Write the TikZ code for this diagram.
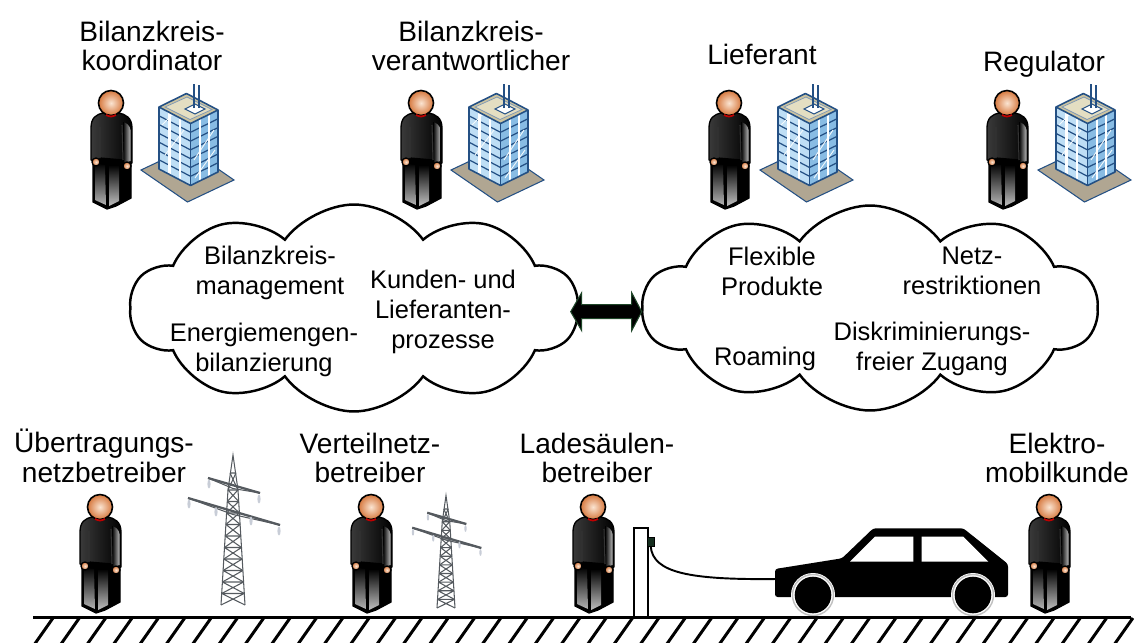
\documentclass[tikz,border=0pt]{standalone}
\usepackage{fontspec}
\setmainfont{Liberation Sans}
\usetikzlibrary{shapes.symbols,calc}

\definecolor{skin}{RGB}{242,178,124}
\definecolor{skinrim}{RGB}{214,120,62}
\definecolor{glassL}{RGB}{190,222,245}
\definecolor{glassR}{RGB}{136,188,228}
\definecolor{bldline}{RGB}{36,80,132}
\definecolor{roofc}{RGB}{205,196,160}
\definecolor{roofin}{RGB}{228,222,194}
\definecolor{plate}{RGB}{176,166,146}
\definecolor{pylgray}{RGB}{85,90,95}
\definecolor{insul}{RGB}{200,205,215}
\definecolor{arrowrim}{RGB}{30,70,40}
\definecolor{plugc}{RGB}{20,45,30}

\tikzset{
  lbl/.style={font=\fontsize{16}{17}\selectfont, align=center, inner sep=0pt},
  ctxt/.style={font=\fontsize{14.5}{17}\selectfont, align=center, inner sep=0pt},
  bubble/.style={cloud, draw, line width=1.4pt, fill=white, cloud puffs=10,
    cloud puff arc=108, cloud ignores aspect, inner sep=0pt},
  outl/.style={draw=black, line width=0.75pt, line join=round},
  skinball/.style={inner color=skin!35!white, outer color=skinrim},
  % standing figure, origin at the centre of the head
  person/.pic={
    \filldraw[fill=black, outl] (-18,54) -- (20,54) -- (20,95) -- (5,103)
      -- (-4,106) -- (-18,99) -- cycle;
    \shade[top color=black, bottom color=gray!60]
      (-16,60) -- (-6,62) -- (-5,102) -- (-16,97) -- cycle;
    \shade[top color=black, bottom color=gray!50]
      (-2,62) -- (8,62) -- (8,98) -- (-2,103) -- cycle;
    \shadedraw[left color=gray!45!black, middle color=black, right color=black, outl]
      (-7,10) .. controls (-15,11) and (-20,15) .. (-20,25) -- (-20,57) -- (-12,59)
      -- (-11,55) -- (12,57) -- (13,63) -- (21,60) -- (21,25)
      .. controls (21,15) and (15,11) .. (7,10) -- cycle;
    \shade[left color=black, right color=gray!55]
      (12,19) .. controls (16,20) and (19,23) .. (19.5,27) -- (19.5,58) -- (13,60) -- cycle;
    \draw[gray!40!black, line width=0.6pt] (-11,24) -- (-11,55) (11,22) -- (12,57);
    \shadedraw[skinball, outl] (-15,59) circle (4);
    \shadedraw[skinball, outl] (16,63) circle (4);
    \shadedraw[skinball, draw=black, line width=0.9pt] (0,0) circle (12.5);
    \draw[red!75!black, line width=1pt] (-5,12) .. controls (0,14) .. (5,12);
  },
  % glass office tower in isometric view
  building/.pic={
    \filldraw[fill=plate, draw=bldline, line width=0.6pt]
      (-48,20) -- (-1.5,52) -- (45,30) -- (-1.5,-2) -- cycle;
    \fill[glassL] (-30,-43) -- (1.5,-26.5) -- (1.5,35.5) -- (-30,19) -- cycle;
    \fill[glassR] (1.5,-26.5) -- (29,-40) -- (29,22) -- (1.5,35.5) -- cycle;
    \foreach \k in {1,...,6}
      \draw[bldline, line width=0.7pt] (-30,-43+8.8*\k) -- (1.5,-26.5+8.8*\k) -- (29,-40+8.8*\k);
    \draw[white!85!glassL, line width=0.5pt] (-27,-25) -- (-12,-40) (-24,5) -- (-5,-20)
      (5,10) -- (25,-20) (6,28) -- (26,0);
    \draw[white, line width=1.2pt] (-19.5,-37.5) -- (-19.5,24.5) (-9,-32) -- (-9,30)
      (10.7,-31) -- (10.7,31) (19.8,-35.5) -- (19.8,26.5);
    \draw[bldline, line width=0.9pt, line join=round]
      (-30,-43) -- (-30,19) -- (1.5,35.5) -- (29,22) -- (29,-40);
    \draw[bldline, line width=0.9pt] (1.5,-26.5) -- (1.5,35.5);
    \filldraw[fill=roofc, draw=bldline, line width=0.9pt, line join=round]
      (-30,-43) -- (1.5,-26.5) -- (29,-40) -- (-2.5,-56.5) -- cycle;
    \filldraw[fill=roofin, draw=bldline!60, line width=0.4pt]
      (-24,-43) -- (1,-30.5) -- (23,-40.5) -- (-2,-53) -- cycle;
    \filldraw[fill=white, draw=bldline, line width=0.6pt]
      (-4,-41) -- (6,-36) -- (16,-41) -- (6,-46) -- cycle;
    \draw[bldline, line width=1pt] (5,-42) -- (5,-66) (10,-42) -- (10,-65);
  },
  % lattice transmission tower, origin at the foot of the mast
  pylon/.pic={
    \begin{scope}[draw=pylgray, line width=0.6pt]
      \draw (-12,0) -- (-5,-115) -- (0,-150) -- (5,-115) -- (12,0);
      \foreach \k in {0,...,9}{
        \pgfmathsetmacro\ya{-11.5*\k}
        \pgfmathsetmacro\yb{-11.5*(\k+1)}
        \pgfmathsetmacro\wa{12-0.7*\k}
        \pgfmathsetmacro\wb{12-0.7*(\k+1)}
        \draw (-\wa,\ya) -- (\wb,\yb) (\wa,\ya) -- (-\wb,\yb) (-\wb,\yb) -- (\wb,\yb);
      }
      \draw (-5,-115) -- (3,-132) (5,-115) -- (-3,-132) (-3,-132) -- (3,-132);
      \draw[line width=1.3pt] (-25,-127) -- (27,-112);
      \draw (-25,-127) -- (0,-116.5) -- (27,-112);
      \draw[line width=1.3pt] (-45,-107) -- (47,-80);
      \draw (-45,-107) -- (0,-90.5) -- (47,-80);
      \foreach \p in {(-24,-121),(26,-106),(-44,-101),(-17,-93),(18,-84),(46,-74)}
        \fill[insul] \p ellipse (1.6 and 4.5);
    \end{scope}
  },
}

\begin{document}
\begin{tikzpicture}[x=0.02cm,y=-0.02cm]
\useasboundingbox (0,0) rectangle (1134,643);

% market roles above
\node[lbl] (tBKK) at (152,46) {Bilanzkreis-\\koordinator};
\node[lbl] (tBKV) at (471,46) {Bilanzkreis-\\verantwortlicher};
\node[lbl] (tLief) at (762,54) {Lieferant};
\node[lbl] (tReg) at (1044,64) {Regulator};
\foreach \x in {111,421,729,1007} \pic at (\x,103) {person};
\foreach \x in {189,499,808,1086} \pic at (\x,150) {building};

% the two process clouds
\node[bubble, minimum width=8.96cm, minimum height=4.14cm] (cloudL) at (354,308) {};
\node[bubble, minimum width=9.1cm, minimum height=4.1cm] (cloudR) at (870,308) {};
\node[ctxt] (c1) at (270,273) {Bilanzkreis-\\management};
\node[ctxt] (c2) at (264,350) {Energiemengen-\\bilanzierung};
\node[ctxt] (c3) at (443,312) {Kunden- und\\Lieferanten-\\prozesse};
\node[ctxt] (c4) at (772,271) {Flexible\\Produkte};
\node[ctxt] (c5) at (972,271) {Netz-\\restriktionen};
\node[ctxt] (c6) at (765,359) {Roaming};
\node[ctxt] (c7) at (932,349) {Diskriminierungs-\\freier Zugang};

% broad double arrow between the clouds
\coordinate (arrL) at (570.7,311.7);
\coordinate (arrR) at (641.7,311.7);
\filldraw[fill=black, draw=arrowrim, line width=0.6pt, line join=miter]
  (arrL) -- ($(arrL)+(11,-19)$) -- ($(arrL)+(11,-7)$) -- ($(arrR)+(-10,-7)$)
  -- ($(arrR)+(-10,-19)$) -- (arrR) -- ($(arrR)+(-10,19)$) -- ($(arrR)+(-10,7)$)
  -- ($(arrL)+(11,7)$) -- ($(arrL)+(11,19)$) -- cycle;

% network and mobility roles below
\node[lbl] (bUNB) at (104,456) {Übertragungs-\\netzbetreiber};
\node[lbl] (bVNB) at (370,458) {Verteilnetz-\\betreiber};
\node[lbl] (bLSB) at (597,458) {Ladesäulen-\\betreiber};
\node[lbl] (bEMK) at (1057,458) {Elektro-\\mobilkunde};
\pic at (233,605) {pylon};
\pic[scale=0.75] at (446,608) {pylon};
\foreach \x in {100,371,593,1049} \pic at (\x,507) {person};

% charging post with cable
\node[draw, line width=1.1pt, fill=white, minimum width=0.28cm, minimum height=1.77cm,
  inner sep=0pt] (post) at (641.3,572.5) {};
\node[draw=black, fill=plugc, line width=0.4pt, minimum width=0.13cm, minimum height=0.17cm,
  inner sep=0pt] (plug) at (650.7,541.8) {};
\coordinate (carfront) at (777,579);
\draw[line width=1.1pt] (plug.south) .. controls (653,573) and (690,580) .. (carfront);

% car
\fill[black, rounded corners=1.5pt] (775,569) -- (842,558.3) -- (873.3,528.3) -- (963.3,528.3)
  -- (1008,564) -- (1008,597) -- (775,597) -- cycle;
\fill[white] (850,561.7) -- (875,536.7) -- (913.3,536.7) -- (913.3,561.7) -- cycle;
\fill[white] (921.7,536.7) -- (963.3,536.7) -- (988.3,561.7) -- (921.7,561.7) -- cycle;
\foreach \c in {(813,595),(973,595)}{
  \fill[white] \c circle (22);
  \draw[gray!50, line width=0.8pt] \c circle (20.5);
  \fill[black] \c circle (18.3);
}

% ground with hatching
\draw[line width=1.7pt] (33,617) -- (1131,617);
\foreach \i in {0,...,41}
  \draw[line width=1.7pt] (53+26.34*\i,618) -- (34+26.34*\i,645);
\end{tikzpicture}
\end{document}
